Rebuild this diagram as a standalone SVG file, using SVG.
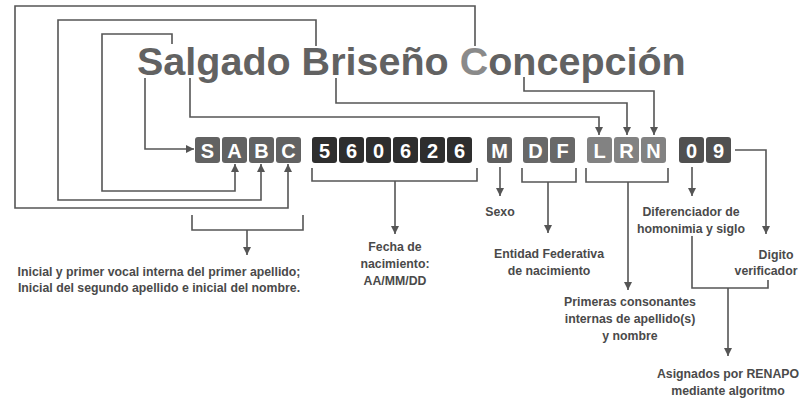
<svg xmlns="http://www.w3.org/2000/svg" width="803" height="400" viewBox="0 0 803 400">
<style>
.c{fill:none;stroke:#555;stroke-width:1.6}
.a{marker-end:url(#ah)}
.t{font-family:"Liberation Sans",Arial,sans-serif;font-size:20px;font-weight:bold;fill:#fff;text-anchor:middle}
.l{font-family:"Liberation Sans",Arial,sans-serif;font-size:12.3px;font-weight:bold;fill:#4a4a4a;text-anchor:middle}
.g1{fill:#626262}.g2{fill:#2e2e2e}.g3{fill:#5e5e5e}.g4{fill:#686868}.g5{fill:#828282}.g6{fill:#505050}
</style>
<defs>
<marker id="ah" viewBox="0 0 10 10" refX="10" refY="5" markerWidth="8" markerHeight="8" markerUnits="userSpaceOnUse" orient="auto"><path d="M0,0 L10,5 L0,10 z" fill="#555"/></marker>
</defs>
<rect width="803" height="400" fill="#fff"/>
<g id="connectors">
<path class="c a" d="M475,46 V6 H15 V208 H288 V164"/>
<path class="c a" d="M316,46 V20 H58 V200 H261 V164"/>
<path class="c a" d="M172,44 V34 H102 V191 H235 V164"/>
<path class="c a" d="M145,78 V149 H194"/>
<path class="c a" d="M190,78 V117 H599 V135"/>
<path class="c a" d="M336,78 V103 H627 V135"/>
<path class="c a" d="M524,77 V91 H654 V135"/>
<path class="c" d="M312,168 V181 H477 V168"/>
<path class="c a" d="M395,181 V234"/>
<path class="c a" d="M500,167 V196"/>
<path class="c" d="M522,168 V182 H576 V168"/>
<path class="c a" d="M548,182 V233"/>
<path class="c" d="M586,168 V182 H668 V168"/>
<path class="c a" d="M628,182 V290"/>
<path class="c a" d="M692,167 V196"/>
<path class="c a" d="M735,150 H766 V234"/>
<path class="c" d="M692,236 V288 H768 V280"/>
<path class="c a" d="M728,288 V356"/>
<path class="c" d="M192,215 V230 H303 V215"/>
<path class="c a" d="M247,230 V255"/>
</g>
<g id="title">
<text x="137" y="75" font-family="Liberation Sans, Arial, sans-serif" font-size="39.5" font-weight="bold" fill="#626262">Salgado Briseño <tspan fill="#8a8a8a">C</tspan>oncepción</text>
</g>
<g id="tile-S"><rect class="g1" x="195" y="137" width="25" height="26" rx="3"/><text class="t" x="207.5" y="157.5">S</text></g>
<g id="tile-A"><rect class="g1" x="222" y="137" width="25" height="26" rx="3"/><text class="t" x="234.5" y="157.5">A</text></g>
<g id="tile-B"><rect class="g1" x="249" y="137" width="25" height="26" rx="3"/><text class="t" x="261.5" y="157.5">B</text></g>
<g id="tile-C"><rect class="g1" x="276" y="137" width="25" height="26" rx="3"/><text class="t" x="288.5" y="157.5">C</text></g>
<g id="tile-5"><rect class="g2" x="312" y="137" width="25" height="26" rx="3"/><text class="t" x="324.5" y="157.5">5</text></g>
<g id="tile-6a"><rect class="g2" x="339" y="137" width="25" height="26" rx="3"/><text class="t" x="351.5" y="157.5">6</text></g>
<g id="tile-0a"><rect class="g2" x="366" y="137" width="25" height="26" rx="3"/><text class="t" x="378.5" y="157.5">0</text></g>
<g id="tile-6b"><rect class="g2" x="393" y="137" width="25" height="26" rx="3"/><text class="t" x="405.5" y="157.5">6</text></g>
<g id="tile-2"><rect class="g2" x="420" y="137" width="25" height="26" rx="3"/><text class="t" x="432.5" y="157.5">2</text></g>
<g id="tile-6c"><rect class="g2" x="447" y="137" width="25" height="26" rx="3"/><text class="t" x="459.5" y="157.5">6</text></g>
<g id="tile-M"><rect class="g3" x="487" y="137" width="25" height="26" rx="3"/><text class="t" x="499.5" y="157.5">M</text></g>
<g id="tile-D"><rect class="g4" x="523" y="137" width="25" height="26" rx="3"/><text class="t" x="535.5" y="157.5">D</text></g>
<g id="tile-F"><rect class="g4" x="550" y="137" width="25" height="26" rx="3"/><text class="t" x="562.5" y="157.5">F</text></g>
<g id="tile-L"><rect class="g5" x="587" y="137" width="25" height="26" rx="3"/><text class="t" x="599.5" y="157.5">L</text></g>
<g id="tile-R"><rect class="g5" x="614" y="137" width="25" height="26" rx="3"/><text class="t" x="626.5" y="157.5">R</text></g>
<g id="tile-N"><rect class="g5" x="641" y="137" width="25" height="26" rx="3"/><text class="t" x="653.5" y="157.5">N</text></g>
<g id="tile-0b"><rect class="g6" x="679" y="137" width="25" height="26" rx="3"/><text class="t" x="691.5" y="157.5">0</text></g>
<g id="tile-9"><rect class="g6" x="706" y="137" width="25" height="26" rx="3"/><text class="t" x="718.5" y="157.5">9</text></g>
<g id="label-abc"><text class="l" x="159" y="276">Inicial y primer vocal interna del primer apellido;</text><text class="l" x="159" y="292">Inicial del segundo apellido e inicial del nombre.</text></g>
<g id="label-fecha"><text class="l" x="395" y="251">Fecha de</text><text class="l" x="395" y="268">nacimiento:</text><text class="l" x="395" y="285">AA/MM/DD</text></g>
<g id="label-sexo"><text class="l" x="500" y="216">Sexo</text></g>
<g id="label-entidad"><text class="l" x="549" y="258">Entidad Federativa</text><text class="l" x="549" y="275">de nacimiento</text></g>
<g id="label-dif"><text class="l" x="691" y="216">Diferenciador de</text><text class="l" x="691" y="233">homonimia y siglo</text></g>
<g id="label-digito"><text class="l" x="776" y="259">Digito</text><text class="l" x="766" y="275">verificador</text></g>
<g id="label-primeras"><text class="l" x="630" y="306">Primeras consonantes</text><text class="l" x="630" y="323">internas de apellido(s)</text><text class="l" x="630" y="340">y nombre</text></g>
<g id="label-asig"><text class="l" x="728" y="378">Asignados por RENAPO</text><text class="l" x="728" y="395">mediante algoritmo</text></g>
</svg>
